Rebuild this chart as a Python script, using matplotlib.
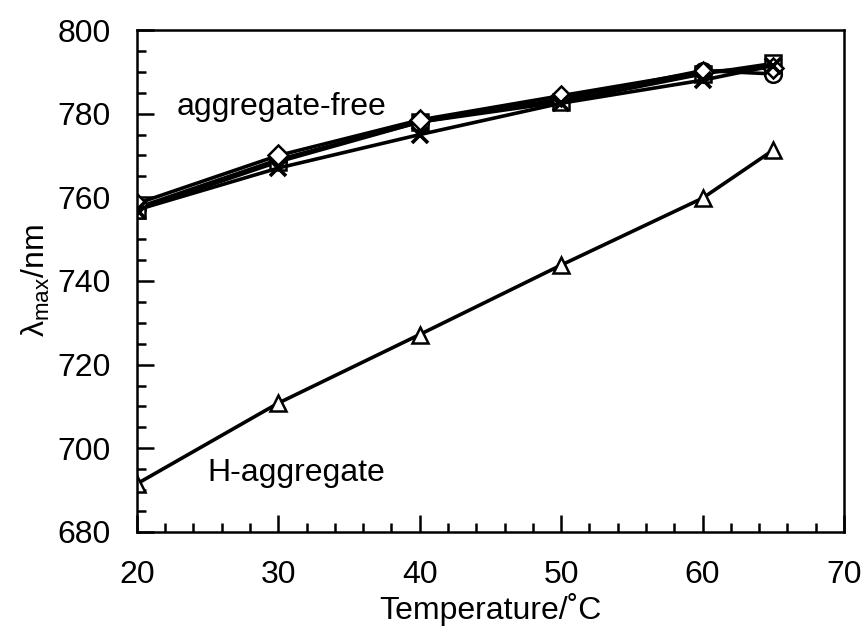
import matplotlib
matplotlib.use("Agg")
import matplotlib.pyplot as plt
from matplotlib.ticker import MultipleLocator

plt.rcParams['font.family'] = ['Liberation Sans', 'DejaVu Sans']
plt.rcParams['mathtext.default'] = 'regular'

temps = [20, 30, 40, 50, 60, 65]
circle_vals = [757.5, 769.0, 778.0, 783.5, 790.3, 789.5]
square_vals = [757.0, 768.5, 778.0, 782.8, 789.5, 792.0]
diamond_vals = [758.5, 770.0, 778.5, 784.3, 790.0, 791.0]
cross_vals = [757.0, 767.0, 775.0, 782.5, 788.0, 791.5]
triangle_vals = [691.5, 710.8, 727.2, 743.8, 759.8, 771.3]

x_ticks = [20, 30, 40, 50, 60, 70]
y_ticks = [680, 700, 720, 740, 760, 780, 800]

fig = plt.figure(figsize=(8.66, 6.33), dpi=100)
ax = fig.add_axes([0.158, 0.1596, 0.8166, 0.793])

lw = 2.6
ms = 12
common = dict(color='black', lw=lw, markersize=ms, markerfacecolor='white',
              markeredgecolor='black', markeredgewidth=1.8)
ax.plot(temps, circle_vals, marker='o', **common)
ax.plot(temps, square_vals, marker='s', **common)
ax.plot(temps, diamond_vals, marker='D', **{**common, 'markersize': 10})
ax.plot(temps, cross_vals, marker='x', **{**common, 'markeredgewidth': 2.6})
ax.plot(temps, triangle_vals, marker='^', **common)

ax.set_xlim(20, 70)
ax.set_ylim(680, 800)
ax.set_xticks(x_ticks)
ax.set_yticks(y_ticks)
ax.xaxis.set_minor_locator(MultipleLocator(2))
ax.yaxis.set_minor_locator(MultipleLocator(5))
ax.tick_params(which='both', direction='in', top=False, right=False, width=1.8)
ax.tick_params(which='major', length=12, labelsize=23)
ax.tick_params(axis='x', which='major', pad=20)
ax.tick_params(axis='y', which='major', pad=19)
ax.tick_params(which='minor', length=6.5)
for s in ax.spines.values():
    s.set_linewidth(1.8)

ax.set_xlabel('Temperature/˚C', fontsize=23, labelpad=2)
ax.set_ylabel(r'$\lambda_{max}$/nm', fontsize=23, labelpad=4)

ax.text(22.8, 781.6, 'aggregate-free', fontsize=23, va='center', ha='left')
ax.text(25.0, 694.0, 'H-aggregate', fontsize=23, va='center', ha='left')

fig.savefig('out.png', dpi=100)
